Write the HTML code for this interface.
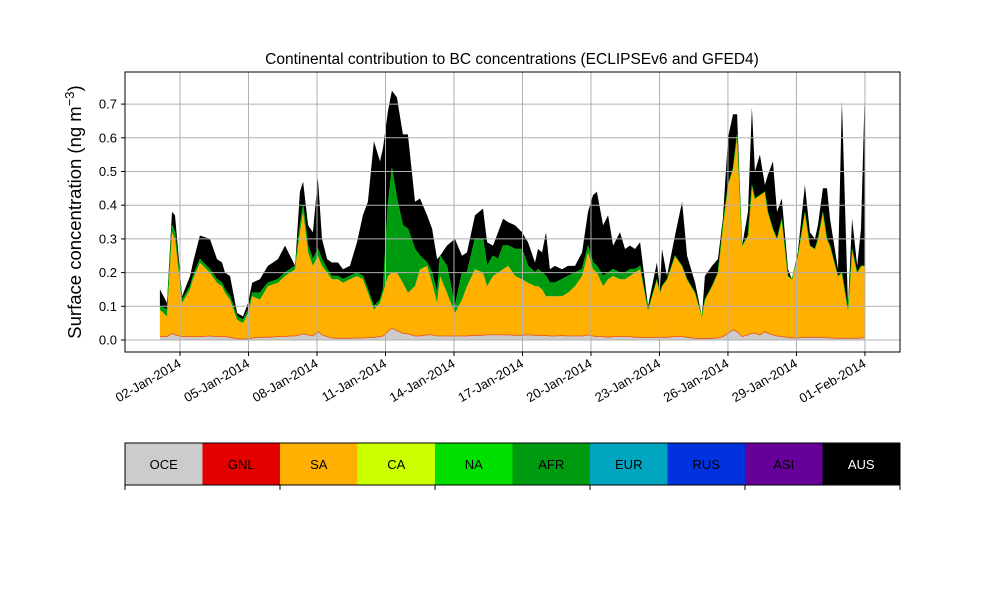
<!DOCTYPE html>
<html><head><meta charset="utf-8"><style>
body{margin:0;background:#fff;width:1000px;height:600px;overflow:hidden}
svg{font-family:"Liberation Sans","DejaVu Sans",sans-serif}
</style></head><body>
<svg id="chart" width="1000" height="600" viewBox="0 0 1000 600" xmlns="http://www.w3.org/2000/svg"></svg>
<script>
// data: days since 01-Jan-2014 00:00, cumulative boundaries (ng m-3)
const days=[0.12,0.43,0.65,0.78,1.09,1.44,1.57,1.87,2.31,2.62,2.84,2.97,3.19,3.50,3.76,3.98,4.16,4.50,4.85,5.29,5.60,5.82,6.04,6.25,6.39,6.61,6.82,7.04,7.22,7.44,7.65,7.92,8.14,8.44,8.75,9.01,9.23,9.49,9.76,9.89,10.11,10.28,10.50,10.76,10.98,11.29,11.51,11.82,12.04,12.26,12.39,12.69,13.04,13.35,13.57,13.92,14.27,14.45,14.71,14.93,15.15,15.37,15.68,15.98,16.24,16.55,16.68,16.86,17.03,17.20,17.42,17.73,17.99,18.30,18.61,18.87,19.09,19.26,19.53,19.75,19.97,20.27,20.49,20.71,20.93,21.15,21.50,21.89,22.02,22.11,22.33,22.68,22.99,23.21,23.56,23.86,23.99,24.30,24.56,24.78,25.00,25.22,25.40,25.62,25.88,26.05,26.18,26.40,26.62,26.75,26.97,27.15,27.36,27.63,27.80,28.06,28.37,28.59,28.81,28.94,29.16,29.34,29.47,29.82,29.99,30.26,30.44,30.66,30.83,31.00];
const oce=[0.01,0.01,0.02,0.015,0.01,0.01,0.01,0.01,0.012,0.01,0.01,0.01,0.008,0.004,0.003,0.004,0.006,0.008,0.008,0.01,0.01,0.012,0.012,0.015,0.018,0.015,0.012,0.025,0.015,0.01,0.006,0.005,0.005,0.005,0.006,0.006,0.007,0.008,0.01,0.012,0.025,0.035,0.028,0.02,0.018,0.012,0.012,0.015,0.015,0.012,0.012,0.012,0.012,0.012,0.012,0.014,0.014,0.015,0.015,0.015,0.015,0.015,0.014,0.014,0.015,0.014,0.014,0.013,0.013,0.012,0.012,0.013,0.012,0.012,0.012,0.015,0.012,0.01,0.01,0.008,0.01,0.01,0.01,0.01,0.008,0.008,0.007,0.008,0.008,0.008,0.008,0.01,0.01,0.008,0.005,0.004,0.004,0.005,0.006,0.01,0.02,0.03,0.025,0.01,0.015,0.02,0.02,0.015,0.025,0.02,0.015,0.012,0.01,0.008,0.006,0.006,0.008,0.008,0.008,0.008,0.008,0.006,0.006,0.005,0.005,0.005,0.005,0.005,0.006,0.007];
const saTop=[0.09,0.07,0.32,0.30,0.11,0.15,0.18,0.23,0.20,0.17,0.16,0.14,0.12,0.06,0.05,0.08,0.13,0.12,0.16,0.17,0.19,0.20,0.21,0.32,0.38,0.26,0.22,0.25,0.22,0.20,0.18,0.18,0.17,0.18,0.19,0.18,0.14,0.09,0.11,0.14,0.19,0.20,0.20,0.17,0.14,0.16,0.21,0.22,0.17,0.11,0.19,0.14,0.08,0.12,0.16,0.21,0.20,0.16,0.19,0.20,0.21,0.22,0.19,0.18,0.17,0.16,0.16,0.15,0.13,0.13,0.13,0.13,0.14,0.16,0.19,0.26,0.21,0.20,0.16,0.18,0.19,0.18,0.18,0.19,0.20,0.21,0.09,0.18,0.14,0.16,0.18,0.25,0.22,0.18,0.14,0.07,0.12,0.16,0.20,0.34,0.46,0.51,0.61,0.28,0.31,0.46,0.42,0.43,0.44,0.38,0.33,0.30,0.36,0.19,0.18,0.25,0.38,0.28,0.27,0.30,0.38,0.30,0.28,0.19,0.20,0.09,0.27,0.20,0.22,0.22];
const afrTop=[0.10,0.09,0.34,0.32,0.12,0.16,0.19,0.24,0.21,0.18,0.17,0.15,0.13,0.07,0.06,0.09,0.14,0.14,0.17,0.18,0.20,0.21,0.22,0.34,0.40,0.28,0.24,0.27,0.24,0.21,0.19,0.19,0.18,0.19,0.20,0.19,0.15,0.10,0.12,0.15,0.40,0.51,0.42,0.34,0.33,0.27,0.25,0.23,0.20,0.14,0.25,0.22,0.10,0.20,0.20,0.30,0.30,0.22,0.25,0.24,0.28,0.28,0.27,0.27,0.22,0.20,0.21,0.20,0.19,0.17,0.17,0.18,0.19,0.20,0.21,0.28,0.23,0.22,0.19,0.20,0.21,0.20,0.20,0.21,0.21,0.22,0.09,0.18,0.14,0.16,0.18,0.25,0.22,0.18,0.14,0.07,0.12,0.16,0.20,0.34,0.46,0.51,0.61,0.28,0.31,0.46,0.42,0.43,0.44,0.38,0.33,0.30,0.36,0.19,0.18,0.25,0.38,0.28,0.27,0.30,0.38,0.30,0.28,0.19,0.20,0.09,0.27,0.20,0.22,0.22];
const total=[0.15,0.11,0.38,0.37,0.13,0.19,0.23,0.31,0.30,0.24,0.23,0.20,0.19,0.08,0.07,0.11,0.17,0.18,0.22,0.24,0.28,0.25,0.22,0.44,0.47,0.34,0.32,0.48,0.30,0.24,0.23,0.23,0.21,0.22,0.29,0.37,0.41,0.59,0.53,0.57,0.68,0.74,0.72,0.61,0.61,0.41,0.42,0.37,0.33,0.24,0.25,0.28,0.30,0.25,0.26,0.37,0.39,0.29,0.28,0.32,0.36,0.35,0.34,0.32,0.29,0.23,0.27,0.26,0.32,0.21,0.22,0.21,0.22,0.22,0.26,0.38,0.43,0.44,0.34,0.37,0.28,0.32,0.27,0.28,0.27,0.29,0.10,0.23,0.15,0.27,0.19,0.31,0.41,0.25,0.17,0.07,0.19,0.22,0.24,0.36,0.60,0.67,0.67,0.28,0.38,0.69,0.50,0.55,0.46,0.49,0.53,0.38,0.42,0.21,0.18,0.26,0.46,0.32,0.30,0.34,0.45,0.45,0.36,0.21,0.71,0.10,0.36,0.22,0.33,0.75];
const yTicks=[0.0,0.1,0.2,0.3,0.4,0.5,0.6,0.7];
const xTickDays=[1,4,7,10,13,16,19,22,25,28,31];
const xTickLabels=["02-Jan-2014","05-Jan-2014","08-Jan-2014","11-Jan-2014","14-Jan-2014","17-Jan-2014","20-Jan-2014","23-Jan-2014","26-Jan-2014","29-Jan-2014","01-Feb-2014"];
const regions=["OCE","GNL","SA","CA","NA","AFR","EUR","RUS","ASI","AUS"];
const regionColors=["#cccccc","#e50000","#ffb000","#ccff00","#00e000","#009a10","#00a5bf","#0033dd","#660099","#000000"];

const NS="http://www.w3.org/2000/svg";
const svg=document.getElementById('chart');
const L=125,R=900,T=72,B=352;
const xs=d=>157.2+d*22.83;
const ys=v=>340-v*337;
function mk(tag,attrs,parent){const e=document.createElementNS(NS,tag);for(const k in attrs)e.setAttribute(k,attrs[k]);(parent||svg).appendChild(e);return e;}

const zero=days.map(()=>0);
function band(lower,upper,color,name){
  let d='M'+days.map((t,i)=>xs(t).toFixed(1)+','+ys(upper[i]).toFixed(1)).join('L');
  for(let i=days.length-1;i>=0;i--) d+='L'+xs(days[i]).toFixed(1)+','+ys(lower[i]).toFixed(1);
  const p=mk('path',{d:d+'Z',fill:color,stroke:'none'});
  
  
}
band(zero,oce,regionColors[0],'area-oce');
band(oce,saTop,regionColors[2],'area-sa');
band(saTop,afrTop,regionColors[5],'area-afr');
band(afrTop,total,regionColors[9],'area-aus');
function line(arr,color,name,w){
  const p=mk('path',{d:'M'+days.map((t,i)=>xs(t).toFixed(1)+','+ys(arr[i]).toFixed(1)).join('L'),fill:'none',stroke:color,'stroke-width':w});
  
  
}
line(oce,'#e85020','line-gnl',0.8);
line(afrTop,'#00c000','line-na',0.6);

const grid=mk('g',{});


yTicks.forEach(v=>{mk('line',{x1:L,x2:R,y1:ys(v),y2:ys(v),stroke:'#b0b0b0','stroke-width':1},grid);});
xTickDays.forEach(d=>{mk('line',{x1:xs(d),x2:xs(d),y1:T,y2:B,stroke:'#b0b0b0','stroke-width':1},grid);});

const frame=mk('rect',{x:L,y:T,width:R-L,height:B-T,fill:'none',stroke:'#000','stroke-width':1});



yTicks.forEach(v=>{
  mk('line',{x1:L-4,x2:L,y1:ys(v),y2:ys(v),stroke:'#000'});
  const t=mk('text',{x:L-8,y:ys(v)+4.5,'text-anchor':'end','font-size':13});
  t.textContent=v.toFixed(1);
  
  
});
xTickDays.forEach((d,i)=>{
  mk('line',{x1:xs(d),x2:xs(d),y1:B,y2:B+4,stroke:'#000'});
  const t=mk('text',{x:xs(d)+2,y:B+14,'text-anchor':'end','font-size':13,transform:`rotate(-30 ${xs(d)+2} ${B+14})`});
  t.textContent=xTickLabels[i];
  
  
});

const title=mk('text',{x:512,y:64,'text-anchor':'middle','font-size':15.5});
title.textContent='Continental contribution to BC concentrations (ECLIPSEv6 and GFED4)';



const yl=mk('text',{x:0,y:0,'text-anchor':'middle','font-size':18.5,transform:'translate(81,212) rotate(-90)'});
yl.innerHTML='Surface concentration (ng m<tspan dy="-7" font-size="13">−3</tspan><tspan dy="7">)</tspan>';



const cb=mk('g',{});


const w=(R-L)/regions.length;
regions.forEach((r,i)=>{
  const rc=mk('rect',{x:L+i*w,y:443,width:w,height:42,fill:regionColors[i]},cb);
  
  
  const t=mk('text',{x:L+i*w+w/2,y:469,'text-anchor':'middle','font-size':13,fill:r==='AUS'?'#fff':'#000'},cb);
  t.textContent=r;
  
  
});
mk('rect',{x:L,y:443,width:R-L,height:42,fill:'none',stroke:'#000','stroke-width':1},cb);
for(let i=0;i<=5;i++){const x=L+i*(R-L)/5;mk('line',{x1:x,x2:x,y1:485,y2:490,stroke:'#000'},cb);}
</script>
</body></html>
